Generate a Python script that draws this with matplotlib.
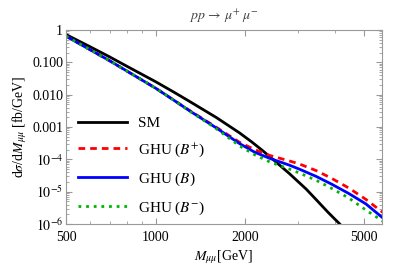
import matplotlib
matplotlib.use("Agg")
import matplotlib.pyplot as plt
from matplotlib.ticker import FixedLocator, NullFormatter

plt.rcParams['font.family'] = ['Liberation Serif', 'DejaVu Serif']
plt.rcParams['mathtext.fontset'] = 'stix'

# invariant mass [GeV] and log10 of dsigma/dM [fb/GeV]
m_sm = [500, 600, 700, 800, 1000, 1150, 1300, 1600, 1910, 2100, 2285, 2460, 2810, 3200, 3460,
        3800, 4200, 4300]
lg_sm = [-0.14, -0.51, -0.83, -1.12, -1.60, -1.92, -2.21, -2.71, -3.18, -3.46, -3.73, -3.98,
         -4.44, -4.92, -5.25, -5.65, -6.05, -6.15]

m_ghu = [500, 700, 1000, 1150, 1300, 1574, 1910, 2150, 2415, 2810, 3030, 3460, 3900, 4454,
         5080, 5800]
lg_b = [-0.19, -0.95, -1.80, -2.17, -2.50, -2.99, -3.51, -3.78, -3.97, -4.18, -4.30, -4.53,
        -4.77, -5.06, -5.38, -5.82]
lg_bp = [-0.19, -0.95, -1.80, -2.17, -2.49, -2.97, -3.47, -3.70, -3.88, -4.05, -4.14, -4.35,
         -4.59, -4.89, -5.24, -5.65]
lg_bm = [-0.19, -0.95, -1.80, -2.17, -2.51, -3.01, -3.58, -3.86, -4.08, -4.30, -4.42, -4.65,
         -4.90, -5.20, -5.57, -5.92]

xticks = [500, 1000, 2000, 5000]
yticks = [1, 0.1, 0.01, 0.001, 1e-4, 1e-5, 1e-6]
ylabels = ['1', '0.100', '0.010', '0.001', r'$10^{-4}$', r'$10^{-5}$', r'$10^{-6}$']

fig = plt.figure(figsize=(4.11, 2.72), dpi=100)
ax = fig.add_axes([0.1606, 0.1765, 0.7688, 0.7132])

ax.plot(m_sm, [10 ** v for v in lg_sm], color='black', lw=2, label='SM')
ax.plot(m_ghu, [10 ** v for v in lg_bp], color='#ff0000', lw=2, ls=(0, (2.4, 1.8)),
        label=r'GHU ($B^{+}$)')
ax.plot(m_ghu, [10 ** v for v in lg_b], color='#0000ff', lw=2, label=r'GHU ($B$)')
ax.plot(m_ghu, [10 ** v for v in lg_bm], color='#00b400', lw=2, ls=(0, (1, 1.75)),
        label=r'GHU ($B^{-}$)')

ax.set_xscale('log')
ax.set_yscale('log')
ax.set_xlim(500, 5750)
ax.set_ylim(1e-6, 1)

ax.xaxis.set_major_locator(FixedLocator(xticks))
ax.set_xticklabels([str(t) for t in xticks])
ax.xaxis.set_minor_locator(FixedLocator([600, 700, 800, 900, 3000, 4000]))
ax.xaxis.set_minor_formatter(NullFormatter())
ax.yaxis.set_major_locator(FixedLocator(yticks))
ax.set_yticklabels(ylabels)

ax.tick_params(which='both', direction='in', top=True, right=True, color='#999999',
               labelsize=10)
ax.tick_params(axis='y', pad=2)
ax.tick_params(axis='x', pad=5)
ax.tick_params(which='major', length=4, width=0.8)
ax.tick_params(which='minor', length=2, width=0.6)
for s in ax.spines.values():
    s.set_color('#999999')
    s.set_linewidth(0.8)

ax.set_xlabel(r'$M_{\mu\mu}$[GeV]', fontsize=10, labelpad=3)
ax.set_ylabel(r'd$\sigma$/d$M_{\mu\mu}$ [fb/GeV]', fontsize=10, labelpad=2)
ax.set_title(r'$pp\,\rightarrow\,\mu^{+}\;\mu^{-}$', fontsize=10, color='#444444', pad=7)

ax.legend(loc='lower left', bbox_to_anchor=(0.0, -0.025), frameon=False, fontsize=11,
          handlelength=3.2, handletextpad=0.7, labelspacing=0.75, borderaxespad=0.4)

fig.savefig('out.png', dpi=100)
